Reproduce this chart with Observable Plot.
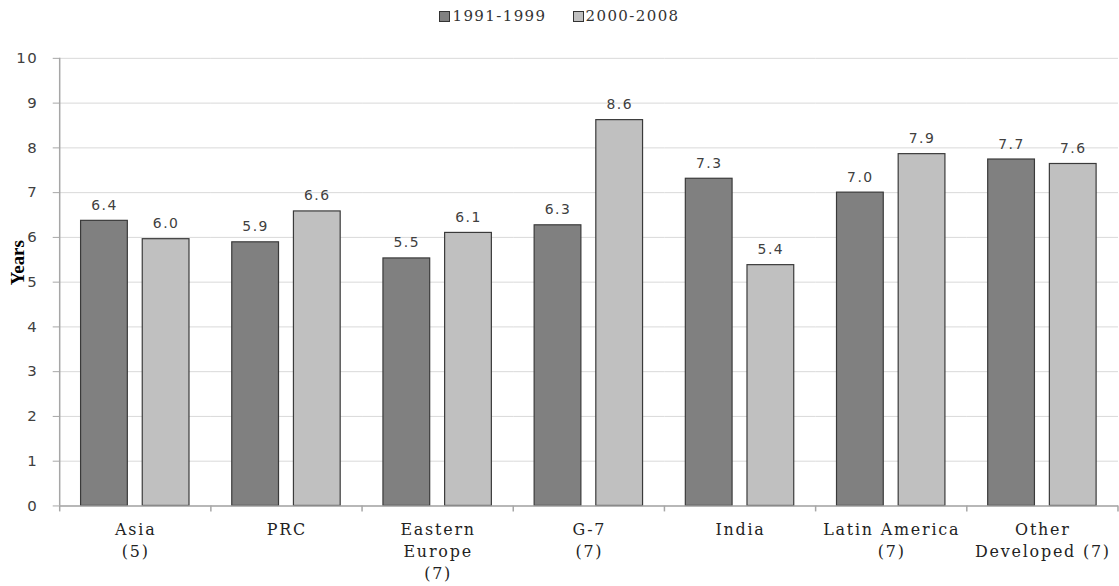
<!DOCTYPE html>
<html><head><meta charset="utf-8">
<script src="https://cdn.jsdelivr.net/npm/d3@7"></script>
<script src="https://cdn.jsdelivr.net/npm/@observablehq/plot@0.6"></script>
<style>
html,body{margin:0;padding:0;background:#fff;overflow:hidden;width:1119px;height:586px;}
#legend{height:32px;display:flex;justify-content:center;align-items:center;gap:26px;font-family:"DejaVu Serif";font-size:15px;letter-spacing:1.4px;color:#333;padding-left:0px;box-sizing:border-box;}
#legend span.item{display:inline-flex;align-items:center;}
#legend span.sw{display:inline-block;width:9px;height:9px;border:1px solid #333;margin-right:2px;}
svg [aria-label="fx-axis tick label"] text{letter-spacing:1.8px;}
svg [aria-label="y-axis tick label"] text{letter-spacing:1.5px;}
svg [aria-label="text"] text{letter-spacing:1.5px;}
</style></head><body><div id="legend"></div><div id="chart"></div>
<script>
const categories = ["Asia\n(5)", "PRC", "Eastern\nEurope\n(7)", "G-7\n(7)", "India", "Latin America\n(7)", "Other\nDeveloped (7)"];
const periods = ["1991-1999", "2000-2008"];
const values1991 = [6.37, 5.89, 5.53, 6.27, 7.31, 7.0, 7.74];
const values2000 = [5.96, 6.58, 6.1, 8.62, 5.38, 7.86, 7.64];
const colors = ["#808080", "#c0c0c0"];
const yTicks = [0, 1, 2, 3, 4, 5, 6, 7, 8, 9, 10];
const yTitle = "Years";

const data = categories.flatMap((c, i) => [
  {category: c, period: periods[0], value: values1991[i]},
  {category: c, period: periods[1], value: values2000[i]}
]);

// legend
const legend = d3.select("#legend");
periods.forEach((p, i) => {
  const it = legend.append("span").attr("class", "item");
  it.append("span").attr("class", "sw").style("background", colors[i]);
  it.append("span").text(p);
});

const plot = Plot.plot({
  width: 1125, height: 554,
  marginLeft: 59, marginRight: 0, marginTop: 26, marginBottom: 78,
  style: {background: "#fff", overflow: "visible"},
  fx: {domain: categories, padding: 0, label: null},
  x: {domain: periods, paddingInner: 0.24, paddingOuter: 0.33, axis: null},
  y: {domain: [0, 10], label: null},
  color: {domain: periods, range: colors},
  marks: [
    Plot.gridY(yTicks, {stroke: "#d9d9d9", strokeOpacity: 1}),
    Plot.barY(data, {fx: "category", x: "period", y: "value", fill: "period", stroke: "#3a3a3a", strokeWidth: 1.2}),
    Plot.text(data, {fx: "category", x: "period", y: "value", text: d => d.value.toFixed(1), dy: -11, lineAnchor: "bottom", fontSize: 14, fontFamily: "DejaVu Sans", fill: "#404040"}),
    Plot.ruleY([0], {stroke: "#a6a6a6", strokeWidth: 1.5}),
    Plot.axisY({ticks: yTicks, tickSize: 7, tickPadding: 15, stroke: "#a6a6a6", fontSize: 15, fontFamily: "DejaVu Sans", fill: "#404040", label: null}),
    Plot.axisFx({anchor: "bottom", tickSize: 0, tickPadding: 13, fontSize: 16, fontFamily: "DejaVu Serif", lineHeight: 1.4, fill: "#222", label: null, tickFormat: d => d})
  ]
});

// axis line, group boundary ticks and y title, positioned from the library's scales
const fx = plot.scale("fx");
const y = plot.scale("y");
const svg = d3.select(plot);
const x0 = fx.apply(categories[0]);
const edges = categories.map(c => fx.apply(c)).concat([fx.apply(categories[categories.length - 1]) + fx.bandwidth]);
const g = svg.append("g").attr("stroke", "#a6a6a6").attr("stroke-width", 1.5);
g.append("line").attr("x1", x0).attr("x2", x0).attr("y1", y.apply(0)).attr("y2", y.apply(10));
edges.forEach(e => g.append("line").attr("x1", e).attr("x2", e).attr("y1", y.apply(0)).attr("y2", y.apply(0) + 6));
const yc = (y.apply(0) + y.apply(10)) / 2 - 19;
svg.append("text")
  .attr("transform", `translate(${x0 - 40},${yc}) rotate(-90)`)
  .attr("text-anchor", "middle")
  .attr("dominant-baseline", "middle")
  .attr("font-family", "Liberation Serif")
  .attr("font-weight", "bold")
  .attr("font-size", 19)
  .attr("fill", "#000")
  .text(yTitle);

document.getElementById("chart").appendChild(plot);
</script></body></html>
